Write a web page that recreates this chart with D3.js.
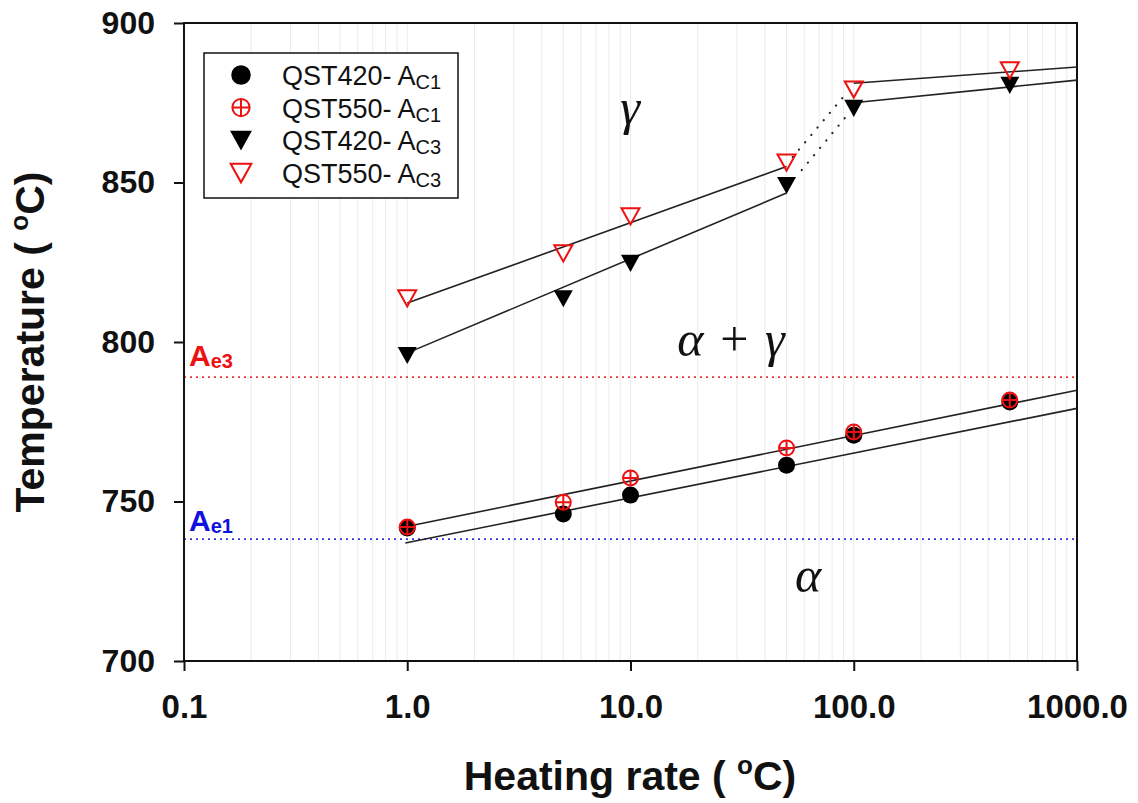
<!DOCTYPE html>
<html><head><meta charset="utf-8">
<script src="https://cdn.jsdelivr.net/npm/d3@7"></script>
<style>
body{margin:0;background:#fff;}
svg{display:block;font-family:"Liberation Sans",Arial,sans-serif;}
</style></head>
<body><svg id="c" width="1138" height="803"></svg>
<script>
// ---- data ----
const rates = [1, 5, 10, 50, 100, 500];
const qst420Ac1 = [741.7, 746.1, 752.0, 761.4, 770.8, 781.2];
const qst550Ac1 = [742.0, 749.8, 757.4, 766.8, 771.8, 781.8];
const qst420Ac3 = [795.9, 813.7, 824.8, 849.2, 873.4, 880.6];
const qst550Ac3 = [813.8, 827.9, 839.5, 856.4, 879.3, 885.3];
const xTicks = [0.1, 1, 10, 100, 1000];
const xTickLabels = ["0.1", "1.0", "10.0", "100.0", "1000.0"];
const yTicks = [700, 750, 800, 850, 900];
const ae3 = 789.0, ae1 = 738.2;
// fitted trend lines (rate, temperature) endpoints
const fitAc1_550 = [[0.97, 742.0], [1000, 784.9]];
const fitAc1_420 = [[0.98, 737.0], [1000, 779.2]];
const fitAc3_550a = [[1, 812.2], [50, 855.0]];
const fitAc3_420a = [[1.06, 797.3], [50, 846.7]];
const fitAc3_550b = [[100, 881.1], [1000, 886.2]];
const fitAc3_420b = [[100, 875.0], [1000, 882.1]];
const dotAc3_550 = [[53.3, 858.0], [93, 878.1]];
const dotAc3_420 = [[58.5, 853.9], [91.2, 870.2]];

const svg = d3.select("#c");
const L = 184, R = 1077, T = 23, B = 661;
const x = d3.scaleLog().domain([0.1, 1000]).range([L, R]);
const y = d3.scaleLinear().domain([700, 900]).range([B, T]);

// minor vertical grid
const gridVals = [];
for (let e = -1; e < 3; e++) for (let k = 1; k < 10; k++) gridVals.push(k * Math.pow(10, e));
svg.append("g").selectAll("line").data(gridVals.filter(v => v > 0.1)).join("line")
  .attr("x1", d => x(d)).attr("x2", d => x(d)).attr("y1", T).attr("y2", B)
  .attr("stroke", "#ebebeb").attr("stroke-width", 1);

// Ae lines
svg.append("line").attr("x1", L).attr("x2", R).attr("y1", y(ae3)).attr("y2", y(ae3))
  .attr("stroke", "#ee3333").attr("stroke-width", 1.8).attr("stroke-dasharray", "2,4");
svg.append("line").attr("x1", L).attr("x2", R).attr("y1", y(ae1)).attr("y2", y(ae1))
  .attr("stroke", "#3333dd").attr("stroke-width", 1.8).attr("stroke-dasharray", "2,4");

// frame
svg.append("rect").attr("x", L).attr("y", T).attr("width", R - L).attr("height", B - T)
  .attr("fill", "none").attr("stroke", "#111").attr("stroke-width", 2);

// axes
const xAxis = d3.axisBottom(x).tickValues(xTicks).tickFormat((d, i) => xTickLabels[i]).tickSize(10).tickPadding(24);
const gx = svg.append("g").attr("transform", `translate(0,${B})`).call(xAxis);
gx.select(".domain").remove();
gx.selectAll("line").attr("stroke", "#111").attr("stroke-width", 2);
gx.selectAll("text").attr("font-size", 33).attr("font-weight", "bold").attr("fill", "#111");

const yAxis = d3.axisLeft(y).tickValues(yTicks).tickSize(10).tickPadding(19);
const gy = svg.append("g").attr("transform", `translate(${L},0)`).call(yAxis);
gy.select(".domain").remove();
gy.selectAll("line").attr("stroke", "#111").attr("stroke-width", 2);
gy.selectAll("text").attr("font-size", 32).attr("font-weight", "bold").attr("fill", "#111");

// axis titles
const xt = svg.append("text").attr("x", 630).attr("y", 790).attr("text-anchor", "middle")
  .attr("font-size", 41).attr("font-weight", "bold").attr("fill", "#111");
xt.append("tspan").text("Heating rate ( ");
xt.append("tspan").attr("font-size", 26).attr("dy", -16).text("o");
xt.append("tspan").attr("dy", 16).text("C)");

const yt = svg.append("text").attr("transform", "translate(44,342) rotate(-90)").attr("text-anchor", "middle")
  .attr("font-size", 41).attr("font-weight", "bold").attr("fill", "#111");
yt.append("tspan").text("Temperature ( ");
yt.append("tspan").attr("font-size", 26).attr("dy", -16).text("o");
yt.append("tspan").attr("dy", 16).text("C)");

// fit lines
const line = d3.line().x(d => x(d[0])).y(d => y(d[1]));
[fitAc1_550, fitAc1_420, fitAc3_550a, fitAc3_420a, fitAc3_550b, fitAc3_420b].forEach(s =>
  svg.append("path").attr("d", line(s)).attr("fill", "none").attr("stroke", "#222").attr("stroke-width", 1.6));
[dotAc3_550, dotAc3_420].forEach(s =>
  svg.append("path").attr("d", line(s)).attr("fill", "none").attr("stroke", "#222").attr("stroke-width", 2.2)
    .attr("stroke-linecap", "round").attr("stroke-dasharray", "0.1,9.5"));

// markers
const tri = (cx, cy, s) => `M${cx - s},${cy - s * 0.85}L${cx + s},${cy - s * 0.85}L${cx},${cy + s * 0.95}Z`;
function blackCircle(g, cx, cy, k = 1) { g.append("circle").attr("cx", cx).attr("cy", cy).attr("r", 8.5 * k).attr("fill", "#000"); }
function redCross(g, cx, cy, k = 1) {
  const r = 7.5 * k;
  g.append("circle").attr("cx", cx).attr("cy", cy).attr("r", r).attr("fill", "none").attr("stroke", "#ee1111").attr("stroke-width", 2);
  g.append("path").attr("d", `M${cx - r},${cy}H${cx + r}M${cx},${cy - r}V${cy + r}`).attr("stroke", "#ee1111").attr("stroke-width", 2);
}
function blackTri(g, cx, cy, k = 1) { g.append("path").attr("d", tri(cx, cy, 9.5 * k)).attr("fill", "#000"); }
function redTri(g, cx, cy, k = 1) { g.append("path").attr("d", tri(cx, cy, 9 * k)).attr("fill", "none").attr("stroke", "#ee1111").attr("stroke-width", 2); }

const mg = svg.append("g");
rates.forEach((r, i) => blackCircle(mg, x(r), y(qst420Ac1[i])));
rates.forEach((r, i) => redCross(mg, x(r), y(qst550Ac1[i])));
rates.forEach((r, i) => blackTri(mg, x(r), y(qst420Ac3[i])));
rates.forEach((r, i) => redTri(mg, x(r), y(qst550Ac3[i])));

// legend
const lg = svg.append("g");
lg.append("rect").attr("x", 204).attr("y", 53).attr("width", 254).attr("height", 145)
  .attr("fill", "#fff").attr("stroke", "#111").attr("stroke-width", 1.5);
const legendNames = ["QST420- A", "QST550- A", "QST420- A", "QST550- A"];
const legendSubs = ["C1", "C1", "C3", "C3"];
const legendDraw = [blackCircle, redCross, blackTri, redTri];
legendNames.forEach((n, i) => {
  const cy = 75 + i * 32.5;
  legendDraw[i](lg, 241, cy, 1.15);
  const t = lg.append("text").attr("x", 282).attr("y", cy + 10).attr("font-size", 27).attr("fill", "#111");
  t.append("tspan").text(n);
  t.append("tspan").attr("font-size", 20).attr("dy", 4).text(legendSubs[i]);
});

// Ae labels
function aeLabel(yy, sub, col) {
  const t = svg.append("text").attr("x", 189).attr("y", yy).attr("font-size", 30).attr("font-weight", "bold").attr("fill", col);
  t.append("tspan").text("A");
  t.append("tspan").attr("font-size", 20).attr("dy", 2).text(sub);
}
aeLabel(366, "e3", "#ee1111");
aeLabel(531, "e1", "#1111dd");

// phase labels
const gf = "'Liberation Serif','DejaVu Serif',serif";
svg.append("text").attr("x", 630).attr("y", 124).attr("text-anchor", "middle").attr("font-family", gf)
  .attr("font-style", "italic").attr("font-size", 50).attr("fill", "#111").text("γ");
const ag = svg.append("text").attr("x", 731).attr("y", 356).attr("text-anchor", "middle").attr("font-family", gf)
  .attr("font-size", 50).attr("fill", "#111").attr("xml:space", "preserve");
ag.append("tspan").attr("font-style", "italic").text("α");
ag.append("tspan").text("\u2004+\u2004");
ag.append("tspan").attr("font-style", "italic").text("γ");
svg.append("text").attr("x", 808).attr("y", 592).attr("text-anchor", "middle").attr("font-family", gf)
  .attr("font-style", "italic").attr("font-size", 50).attr("fill", "#111").text("α");
</script></body></html>
